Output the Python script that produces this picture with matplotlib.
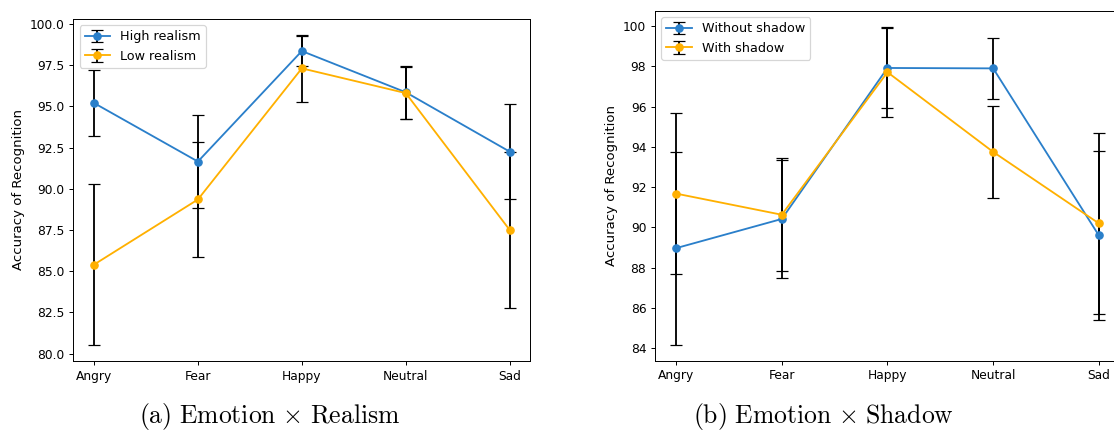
import numpy as np
import matplotlib
matplotlib.use("Agg")
import matplotlib.pyplot as plt

plt.rcParams['mathtext.fontset'] = 'cm'

emotions = ["Angry", "Fear", "Happy", "Neutral", "Sad"]

# (a) Emotion x Realism
high_realism = [95.2, 91.65, 98.35, 95.85, 92.25]
high_realism_err = [2.0, 2.8, 0.9, 1.6, 2.9]
low_realism = [85.4, 89.35, 97.3, 95.8, 87.5]
low_realism_err = [4.9, 3.5, 2.05, 1.6, 4.7]

# (b) Emotion x Shadow
without_shadow = [88.97, 90.42, 97.92, 97.9, 89.6]
without_shadow_err = [4.8, 2.95, 1.97, 1.5, 4.2]
with_shadow = [91.68, 90.63, 97.71, 93.75, 90.2]
with_shadow_err = [4.0, 2.8, 2.25, 2.3, 4.5]

blue = '#2a7fca'
orange = '#ffb000'

dpi = 88
fig = plt.figure(figsize=(1114 / dpi, 430 / dpi), dpi=dpi)

ax1 = fig.add_axes([0.0657, 0.1605, 0.4105, 0.7953])
ax2 = fig.add_axes([0.5879, 0.1612, 0.4175, 0.8132])

x = np.arange(len(emotions))

ax1.errorbar(x, high_realism, yerr=high_realism_err, fmt='-o', color=blue,
             ecolor='black', capsize=5, label='High realism')
ax1.errorbar(x, low_realism, yerr=low_realism_err, fmt='-o', color=orange,
             ecolor='black', capsize=5, label='Low realism')

ax2.errorbar(x, without_shadow, yerr=without_shadow_err, fmt='-o', color=blue,
             ecolor='black', capsize=5, label='Without shadow')
ax2.errorbar(x, with_shadow, yerr=with_shadow_err, fmt='-o', color=orange,
             ecolor='black', capsize=5, label='With shadow')

for ax in (ax1, ax2):
    ax.set_xticks(x)
    ax.set_xticklabels(emotions)
    ax.set_ylabel("Accuracy of Recognition", fontsize=10.8)
    ax.legend(loc='upper left', fontsize=10.4)

fig.text(270 / 1114, 1 - 416 / 430, r"$\mathrm{(a)\ Emotion\ {\times}\ Realism}$",
         ha='center', va='center', fontsize=21)
fig.text(823 / 1114, 1 - 416 / 430, r"$\mathrm{(b)\ Emotion\ {\times}\ Shadow}$",
         ha='center', va='center', fontsize=21)

fig.savefig("out.png", dpi=dpi)
